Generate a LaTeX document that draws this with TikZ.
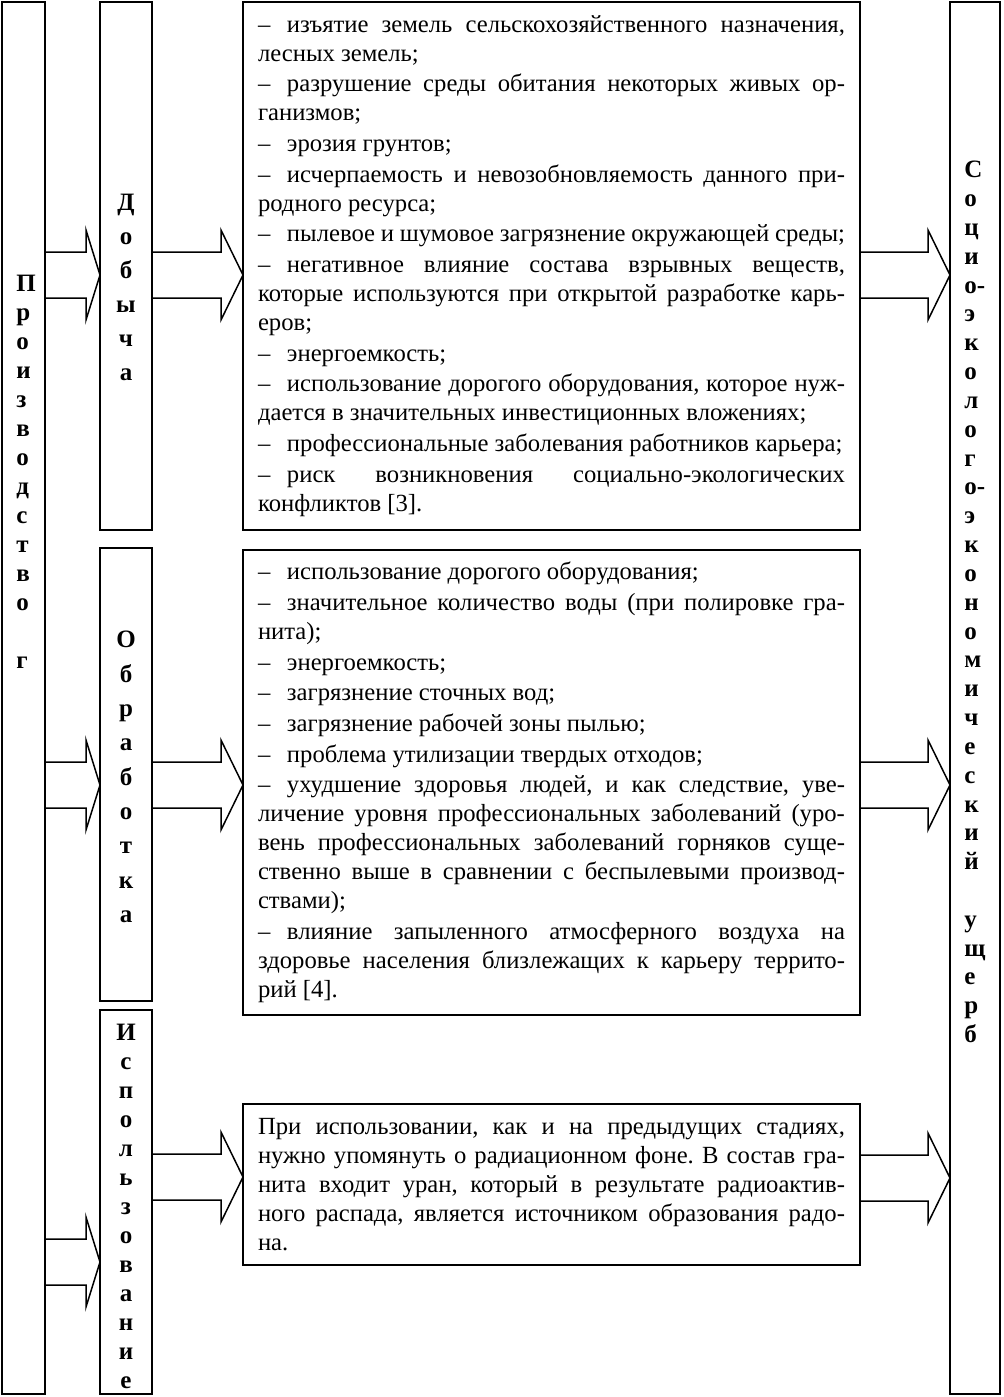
\documentclass[tikz,border=0pt]{standalone}
\usepackage{fontspec}
\setmainfont{Liberation Serif}
\usetikzlibrary{calc}
\newcommand{\dsh}{–\hspace{10pt}}
\newcommand{\blockarr}[4]{%
  \draw[blockarrow] ($(#1.east|-0,#3)+(0,-23)$) -- ($(#2.west|-0,#3)+(-#4,-23)$)
    -- ($(#2.west|-0,#3)+(-#4,-45)$) -- (#2.west|-0,#3)
    -- ($(#2.west|-0,#3)+(-#4,45)$) -- ($(#2.west|-0,#3)+(-#4,23)$)
    -- ($(#1.east|-0,#3)+(0,23)$);}
\begin{document}
\begin{tikzpicture}[x=0.6pt,y=-0.6pt,
  box/.style={draw,line width=1.2pt,outer sep=0pt,inner sep=0pt,anchor=north west},
  textbox/.style={box,inner xsep=9pt,text width=352.2pt,align=justify,
    font=\fontsize{14.8}{17.4}\selectfont,
    execute at begin node={\setlength{\parskip}{1pt}\tolerance=10000\frenchspacing}},
  letters/.style={inner sep=0pt,font=\fontsize{15}{#1}\selectfont\bfseries},
  blockarrow/.style={line width=0.9pt,line join=miter}]
\useasboundingbox (0,0) rectangle (1003,1397);
\node[box,minimum width=25.8pt,minimum height=835.2pt] (prod) at (2,2) {};
\node[box,minimum width=31.2pt,minimum height=316.8pt] (dob) at (100,2) {};
\node[box,minimum width=31.2pt,minimum height=271.8pt] (obr) at (100,548) {};
\node[box,minimum width=31.2pt,minimum height=230.4pt] (isp) at (100,1010) {};
\node[box,minimum width=30pt,minimum height=835.2pt] (ush) at (950,2) {};
\node[letters=17.4pt,align=left,anchor=west] (prodtxt) at (16,472)
  {П\\р\\о\\и\\з\\в\\о\\д\\с\\т\\в\\о\\~\\г};
\node[letters=20.4pt,align=center] (dobtxt) at (126,287) {Д\\о\\б\\ы\\ч\\а};
\node[letters=20.6pt,align=center] (obrtxt) at (126,777) {О\\б\\р\\а\\б\\о\\т\\к\\а};
\node[letters=17.4pt,align=center] (isptxt) at (126,1206)
  {И\\с\\п\\о\\л\\ь\\з\\о\\в\\а\\н\\и\\е};
\node[letters=17.3pt,align=left,anchor=west] (ushtxt) at (964,602)
  {С\\о\\ц\\и\\о-\\э\\к\\о\\л\\о\\г\\о-\\э\\к\\о\\н\\о\\м\\и\\ч\\е\\с\\к\\и\\й\\~\\у\\щ\\е\\р\\б};
\node[textbox,minimum height=316.8pt] (dobeff) at (243,2) {%
\dsh изъятие земель сельскохозяйственного назначения,\linebreak лесных земель;\par
\dsh разрушение среды обитания некоторых живых ор-\linebreak ганизмов;\par
\dsh эрозия грунтов;\par
\dsh исчерпаемость и невозобновляемость данного при-\linebreak родного ресурса;\par
\dsh пылевое и шумовое загрязнение окружающей среды;\par
\dsh негативное влияние состава взрывных веществ,\linebreak которые используются при открытой разработке карь-\linebreak еров;\par
\dsh энергоемкость;\par
\dsh использование дорогого оборудования, которое нуж-\linebreak дается в значительных инвестиционных вложениях;\par
\dsh профессиональные заболевания работников карьера;\par
\dsh риск возникновения социально-экологических\linebreak конфликтов [3].};
\node[textbox,minimum height=279pt] (obreff) at (243,550) {%
\dsh использование дорогого оборудования;\par
\dsh значительное количество воды (при полировке гра-\linebreak нита);\par
\dsh энергоемкость;\par
\dsh загрязнение сточных вод;\par
\dsh загрязнение рабочей зоны пылью;\par
\dsh проблема утилизации твердых отходов;\par
\dsh ухудшение здоровья людей, и как следствие, уве-\linebreak личение уровня профессиональных заболеваний (уро-\linebreak вень профессиональных заболеваний горняков суще-\linebreak ственно выше в сравнении с беспылевыми производ-\linebreak ствами);\par
\dsh влияние запыленного атмосферного воздуха на\linebreak здоровье населения близлежащих к карьеру террито-\linebreak рий [4].};
\node[textbox,minimum height=96.6pt] (ispeff) at (243,1104) {%
При использовании, как и на предыдущих стадиях,\linebreak нужно упомянуть о радиационном фоне. В состав гра-\linebreak нита входит уран, который в результате радиоактив-\linebreak ного распада, является источником образования радо-\linebreak на.};
\blockarr{prod}{dob}{275}{14}
\blockarr{dob}{dobeff}{275}{22}
\blockarr{dobeff}{ush}{275}{22}
\blockarr{prod}{obr}{785}{14}
\blockarr{obr}{obreff}{785}{22}
\blockarr{obreff}{ush}{785}{22}
\blockarr{prod}{isp}{1262}{14}
\blockarr{isp}{ispeff}{1177}{22}
\blockarr{ispeff}{ush}{1178}{22}
\end{tikzpicture}
\end{document}
